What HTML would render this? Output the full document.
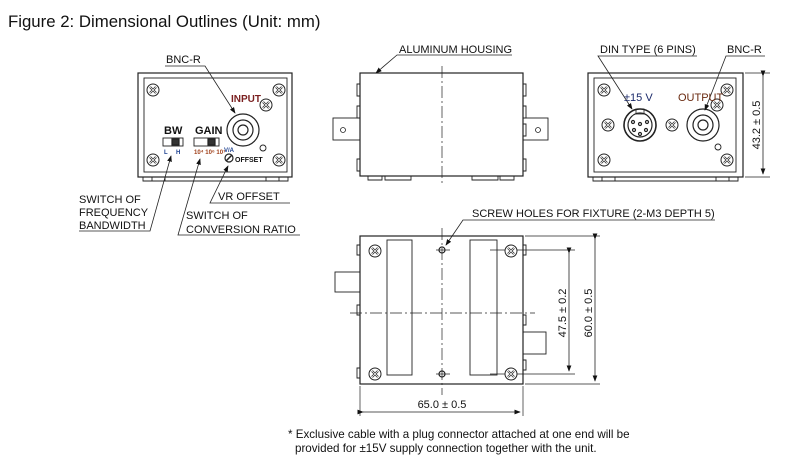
<!DOCTYPE html>
<html><head><meta charset="utf-8"><style>
html,body{margin:0;padding:0;background:#fff;}
svg{display:block;}
text{font-family:"Liberation Sans",Arial,sans-serif;fill:#111;}
.l{font-size:11px;}
</style></head><body>
<svg width="805" height="470" viewBox="0 0 805 470" xmlns="http://www.w3.org/2000/svg">
<defs>
<g id="scr"><circle r="6" fill="#fff" stroke="#222" stroke-width="1"/><path d="M-3,-3L3,3M3,-3L-3,3" stroke="#222" stroke-width="2.2"/><path d="M-3,-3L3,3M3,-3L-3,3" stroke="#fff" stroke-width="0.8"/></g>
<marker id="ar" markerWidth="8" markerHeight="6" refX="7" refY="3" orient="auto"><path d="M0,0L8,3L0,6z" fill="#111"/></marker>
</defs>
<text x="8" y="27" style="font-size:16.8px">Figure 2: Dimensional Outlines (Unit: mm)</text>

<g fill="none" stroke="#222" stroke-width="1.2">
<rect x="138" y="73" width="154" height="104"/>
<rect x="144" y="78" width="143" height="94" stroke-width="0.9"/>
<path d="M143,177v4h145v-4M152,177v4M165,177v4M266,177v4M279,177v4" stroke-width="0.9"/>
<circle cx="243" cy="130" r="16"/><circle cx="243" cy="130" r="10"/><circle cx="243" cy="130" r="5"/>
<circle cx="263" cy="148" r="3" stroke-width="0.9"/>
<rect x="163" y="138" width="20" height="8" stroke-width="0.9"/><rect x="172" y="139" width="7" height="6" fill="#333"/>
<rect x="194" y="138" width="25" height="8" stroke-width="0.9"/><rect x="208" y="139" width="7" height="6" fill="#333"/>
<circle cx="229" cy="158" r="4"/><path d="M226,161L232,155" stroke-width="1.5"/>
<path d="M165,66H205L235,113" stroke-width="0.8" marker-end="url(#ar)"/>
<path d="M79,231H150L171,156" stroke-width="0.8" marker-end="url(#ar)"/>
<path d="M300,235H178L200,159" stroke-width="0.8" marker-end="url(#ar)"/>
<path d="M290,203H210L228,166" stroke-width="0.8" marker-end="url(#ar)"/>

<rect x="360" y="73" width="163" height="103"/>
<path d="M442,66V185" stroke-width="0.7" stroke-dasharray="12,3,2,3"/>
<rect x="333" y="118" width="27" height="22" stroke-width="0.9"/><circle cx="343" cy="130" r="2.5" stroke-width="0.8"/>
<rect x="523" y="118" width="25" height="22" stroke-width="0.9"/><circle cx="538" cy="130" r="2.5" stroke-width="0.8"/>
<path d="M360,84h-3v12h3M360,106h-3v12h3M360,159h-3v12h3M523,84h3v12h-3M523,106h3v12h-3M523,124h3v12h-3M523,159h3v12h-3" stroke-width="0.9"/>
<path d="M368,176v4h14v-4M385,176v4h26v-4M472,176v4h26v-4M500,176v4h14v-4" stroke-width="0.9"/>
<path d="M512,55H397L376,73" stroke-width="0.8" marker-end="url(#ar)"/>

<rect x="588" y="73" width="155" height="104"/>
<rect x="594" y="78" width="142" height="94" stroke-width="0.9"/>
<path d="M593,177v4h145v-4M602,177v4M615,177v4M716,177v4M729,177v4" stroke-width="0.9"/>
<circle cx="640" cy="125" r="16" stroke-width="1.6"/><circle cx="640" cy="125" r="12"/>
<rect x="636" y="109" width="8" height="5" stroke-width="0.8"/>
<circle cx="633" cy="122" r="1.5"/><circle cx="647" cy="122" r="1.5"/><circle cx="634" cy="130" r="1.5"/><circle cx="646" cy="130" r="1.5"/><circle cx="640" cy="134" r="1.5"/><circle cx="640" cy="124" r="1.5"/>
<circle cx="703" cy="125" r="16"/><circle cx="703" cy="125" r="10"/><circle cx="703" cy="125" r="5"/>
<circle cx="718" cy="147" r="3" stroke-width="0.9"/>
<path d="M697,56H598L632,109" stroke-width="0.8" marker-end="url(#ar)"/>
<path d="M765,56H726L705,110" stroke-width="0.8" marker-end="url(#ar)"/>
<path d="M745,73H770M745,177H770" stroke-width="0.7"/>
<path d="M763,76V174" stroke-width="0.8" marker-start="url(#ar)" marker-end="url(#ar)"/>

<rect x="360" y="236" width="163" height="148"/>
<rect x="387" y="240" width="25" height="135" stroke-width="0.9"/>
<rect x="470" y="240" width="27" height="135" stroke-width="0.9"/>
<path d="M442,228V395M350,313H535" stroke-width="0.7" stroke-dasharray="12,3,2,3"/>
<circle cx="442" cy="250" r="3"/><circle cx="442" cy="374" r="3"/>
<path d="M436,250h14M436,374h14" stroke-width="0.7"/>
<rect x="335" y="272" width="25" height="20" stroke-width="0.9"/>
<rect x="523" y="332" width="23" height="22" stroke-width="0.9"/>
<path d="M360,245h-3v10h3M360,305h-3v10h3M360,368h-3v10h3M523,245h3v10h-3M523,315h3v10h-3M523,360h3v10h-3" stroke-width="0.9"/>
<path d="M490,250H575M490,374H575M525,236H600M525,384H600M360,386V416M523,386V416" stroke-width="0.7"/>
<path d="M569,253V371" stroke-width="0.8" marker-start="url(#ar)" marker-end="url(#ar)"/>
<path d="M595,239V381" stroke-width="0.8" marker-start="url(#ar)" marker-end="url(#ar)"/>
<path d="M363,412H520" stroke-width="0.8" marker-start="url(#ar)" marker-end="url(#ar)"/>
<path d="M715,220H463L446,245" stroke-width="0.8" marker-end="url(#ar)"/>
</g>

<g>
<use href="#scr" x="153" y="90"/><use href="#scr" x="279" y="90"/><use href="#scr" x="153" y="160"/><use href="#scr" x="279" y="160"/><use href="#scr" x="266" y="105"/>
<use href="#scr" x="604" y="90"/><use href="#scr" x="727" y="90"/><use href="#scr" x="604" y="160"/><use href="#scr" x="727" y="160"/><use href="#scr" x="717" y="105"/><use href="#scr" x="608" y="125"/><use href="#scr" x="672" y="125"/>
<use href="#scr" x="375" y="251"/><use href="#scr" x="511" y="251"/><use href="#scr" x="375" y="374"/><use href="#scr" x="511" y="374"/>
</g>

<text class="l" x="166" y="63">BNC-R</text>
<text x="231" y="102" style="fill:#7a1f1f;font-weight:bold;font-size:10px">INPUT</text>
<text x="164" y="134" style="font-weight:bold;font-size:11px">BW</text>
<text x="195" y="134" style="font-weight:bold;font-size:11px">GAIN</text>
<text x="164" y="154" style="font-size:6px;fill:#1b3f8f;font-weight:bold">L&#160;&#160;&#160;&#160;&#160;H</text>
<text x="194" y="154" style="font-size:6px;fill:#a0401a;font-weight:bold">10⁴ 10⁶ 10⁷</text>
<text x="224" y="152" style="font-size:6px;fill:#1b3f8f;font-weight:bold">V/A</text>
<text x="235" y="162" style="font-size:7px;font-weight:bold">OFFSET</text>
<text class="l" x="79" y="203">SWITCH OF</text>
<text class="l" x="79" y="216">FREQUENCY</text>
<text class="l" x="79" y="229">BANDWIDTH</text>
<text class="l" x="186" y="219">SWITCH OF</text>
<text class="l" x="186" y="233">CONVERSION RATIO</text>
<text class="l" x="218" y="200">VR OFFSET</text>
<text class="l" x="399" y="53">ALUMINUM HOUSING</text>
<text class="l" x="600" y="53">DIN TYPE (6 PINS)</text>
<text class="l" x="727" y="53">BNC-R</text>
<text class="l" x="624" y="101" style="fill:#1b2a6a">±15 V</text>
<text class="l" x="678" y="101" style="fill:#6a2a10">OUTPUT</text>
<text class="l" transform="translate(760,125) rotate(-90)" text-anchor="middle">43.2 ± 0.5</text>
<text class="l" x="472" y="217">SCREW HOLES FOR FIXTURE (2-M3 DEPTH 5)</text>
<text class="l" transform="translate(566,313) rotate(-90)" text-anchor="middle">47.5 ± 0.2</text>
<text class="l" transform="translate(592,313) rotate(-90)" text-anchor="middle">60.0 ± 0.5</text>
<text class="l" x="442" y="408" text-anchor="middle">65.0 ± 0.5</text>
<text x="288" y="438" style="font-size:11.6px">* Exclusive cable with a plug connector attached at one end will be</text>
<text x="295" y="452" style="font-size:11.6px">provided for ±15V supply connection together with the unit.</text>
</svg>
</body></html>
